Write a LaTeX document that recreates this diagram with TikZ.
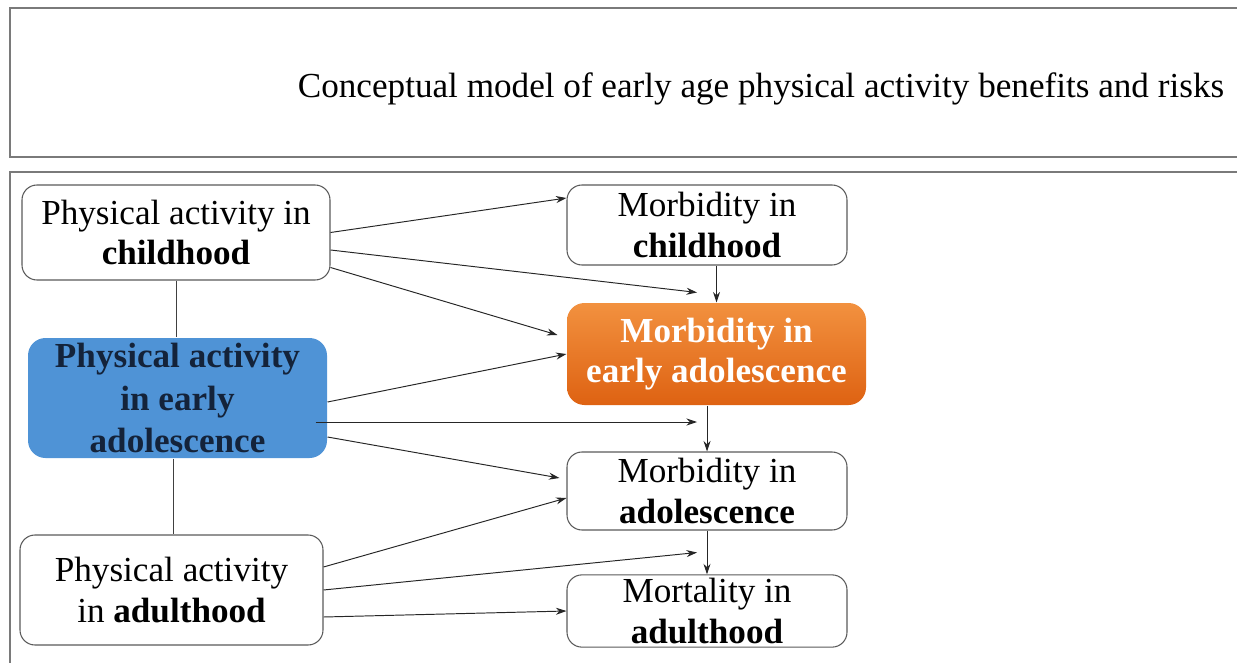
\documentclass[tikz,border=0pt]{standalone}
\usepackage{fontspec}
\setmainfont{Liberation Serif}
\usetikzlibrary{arrows.meta}

\definecolor{boxgray}{HTML}{5A5A5A}
\definecolor{framegray}{HTML}{7A7A7A}
\definecolor{earlyblue}{HTML}{4F93D6}
\definecolor{navytext}{HTML}{14233A}
\definecolor{orangetop}{HTML}{F2913F}
\definecolor{orangebot}{HTML}{DE6212}

\begin{document}
\begin{tikzpicture}[
    agebox/.style={draw=boxgray, line width=0.6pt, rounded corners=0.3cm, fill=white,
      align=center, inner sep=2pt, font=\fontsize{20}{23}\selectfont},
    arr/.style={-{Stealth[length=6pt,width=4pt]}, line width=0.55pt, black!85},
    link/.style={line width=0.55pt, black!75}
  ]
  \useasboundingbox (0,0) rectangle (24.74,13.24);

  % Frames
  \draw[framegray, line width=1.2pt] (24.8,13.08) -- (0.2,13.08) -- (0.2,10.10) -- (24.8,10.10);
  \draw[framegray, line width=1.2pt] (24.8,9.80) -- (0.2,9.80) -- (0.2,-0.1);

  % Title
  \node[font=\fontsize{20}{23}\selectfont] (title) at (15.22,11.47)
    {Conceptual model of early age physical activity benefits and risks};

  % Physical activity boxes
  \node[agebox, minimum width=6.16cm, minimum height=1.9cm] (PAchild) at (3.52,8.59)
    {Physical activity in\\ \textbf{childhood}};
  \node[agebox, draw=none, fill=earlyblue, rounded corners=0.35cm, text=navytext,
    font=\fontsize{20}{24}\selectfont\bfseries, minimum width=5.98cm, minimum height=2.4cm]
    (PAearly) at (3.55,5.28) {Physical activity\\ in early\\ adolescence};
  \node[agebox, minimum width=6.06cm, minimum height=2.2cm] (PAadult) at (3.43,1.44)
    {Physical activity\\ in \textbf{adulthood}};

  % Outcome boxes
  \node[agebox, minimum width=5.6cm, minimum height=1.6cm] (Mchild) at (14.14,8.74)
    {Morbidity in\\ \textbf{childhood}};
  \node[agebox, draw=none, top color=orangetop, bottom color=orangebot, rounded corners=0.35cm,
    text=white, font=\fontsize{20}{23}\selectfont\bfseries, minimum width=5.98cm,
    minimum height=2.04cm] (Mearly) at (14.33,6.16) {Morbidity in\\ early adolescence};
  \node[agebox, minimum width=5.6cm, minimum height=1.56cm] (Madol) at (14.14,3.42)
    {Morbidity in\\ \textbf{adolescence}};
  \node[agebox, minimum width=5.6cm, minimum height=1.44cm] (Mort) at (14.14,1.02)
    {Mortality in\\ \textbf{adulthood}};

  % Vertical link between activity boxes
  \draw[link] (PAchild.south) -- (PAchild.south |- PAearly.north);
  \draw[link] ([xshift=0.03cm]PAadult.north |- PAearly.south) -- ([xshift=0.03cm]PAadult.north);

  % Arrows down the outcome column
  \draw[arr] (Mearly.north |- Mchild.south) -- (Mearly.north);
  \draw[arr] (Madol.north |- Mearly.south) -- (Madol.north);
  \draw[arr] (Madol.south) -- (Mort.north);

  % Arrows from childhood
  \draw[arr] (PAchild.east) -- ([yshift=0.54cm]Mchild.west);
  \draw[arr] ([yshift=-0.35cm]PAchild.east) -- ([xshift=-0.39cm,yshift=0.2cm]Mearly.north);
  \draw[arr] ([yshift=-0.7cm]PAchild.east) -- ([xshift=-0.18cm,yshift=0.38cm]Mearly.west);

  % Arrows from early adolescence
  \coordinate (e5) at ([xshift=-0.24cm,yshift=-0.48cm]PAearly.east);
  \draw[arr] ([yshift=-0.08cm]PAearly.east) -- (Mearly.west);
  \draw[arr] (e5) -- ([xshift=-0.2cm]e5 -| Madol.north);
  \draw[arr] ([yshift=-0.78cm]PAearly.east) -- ([xshift=-0.14cm,yshift=0.26cm]Madol.west);

  % Arrows from adulthood
  \draw[arr] ([yshift=0.46cm]PAadult.east) -- ([yshift=-0.14cm]Madol.west);
  \draw[arr] (PAadult.east) -- ([xshift=-0.2cm,yshift=-0.44cm]Madol.south);
  \draw[arr] ([yshift=-0.54cm]PAadult.east) -- (Mort.west);
\end{tikzpicture}
\end{document}
